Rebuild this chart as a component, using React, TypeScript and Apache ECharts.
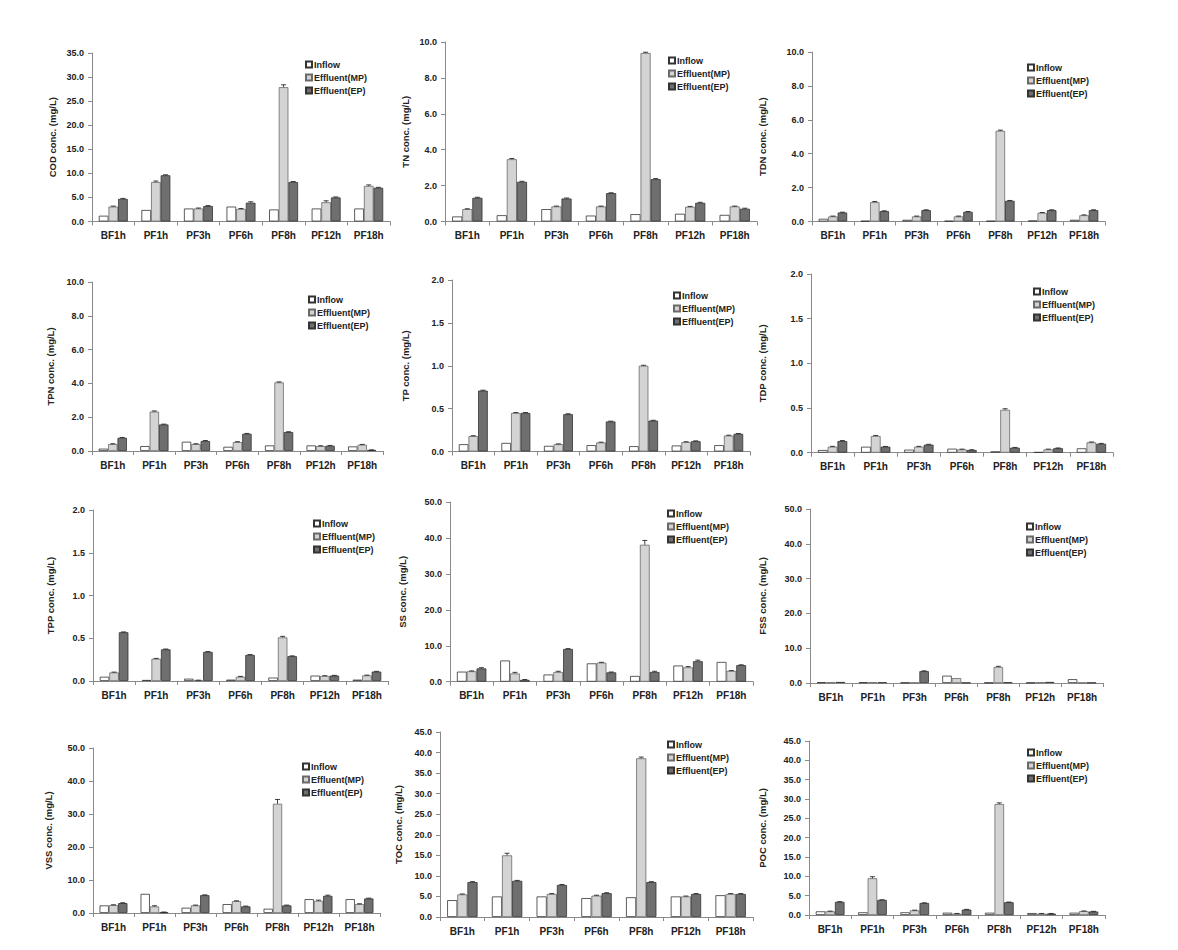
import React, { useEffect, useRef } from 'react';
import * as echarts from 'echarts';

const CATEGORIES = ['BF1h', 'PF1h', 'PF3h', 'PF6h', 'PF8h', 'PF12h', 'PF18h'];
const SERIES_NAMES = ['Inflow', 'Effluent(MP)', 'Effluent(EP)'];

const COD_INFLOW = [1.2, 2.4, 2.7, 3.1, 2.5, 2.7, 2.7];
const COD_MP = [3.1, 8.2, 2.7, 2.6, 27.9, 4.0, 7.4];
const COD_EP = [4.7, 9.6, 3.2, 3.9, 8.2, 5.0, 7.0];
const COD_MP_ERR = [0.1, 0.2, 0.1, 0.1, 0.5, 0.3, 0.2];
const COD_EP_ERR = [0.1, 0.1, 0.1, 0.2, 0.1, 0.1, 0.1];

const TN_INFLOW = [0.28, 0.35, 0.69, 0.33, 0.41, 0.43, 0.37];
const TN_MP = [0.69, 3.47, 0.84, 0.84, 9.39, 0.82, 0.84];
const TN_EP = [1.32, 2.21, 1.28, 1.58, 2.36, 1.04, 0.71];
const TN_MP_ERR = [0.02, 0.04, 0.02, 0.02, 0.04, 0.02, 0.02];
const TN_EP_ERR = [0.03, 0.03, 0.03, 0.02, 0.03, 0.03, 0.03];

const TDN_INFLOW = [0.16, 0.04, 0.1, 0.04, 0.04, 0.06, 0.1];
const TDN_MP = [0.3, 1.14, 0.3, 0.3, 5.35, 0.51, 0.37];
const TDN_EP = [0.53, 0.61, 0.67, 0.57, 1.22, 0.67, 0.67];
const TDN_MP_ERR = [0.02, 0.04, 0.02, 0.02, 0.04, 0.02, 0.02];
const TDN_EP_ERR = [0.02, 0.02, 0.02, 0.02, 0.02, 0.02, 0.02];

const TPN_INFLOW = [0.14, 0.29, 0.55, 0.25, 0.33, 0.33, 0.27];
const TPN_MP = [0.41, 2.33, 0.41, 0.53, 4.06, 0.29, 0.37];
const TPN_EP = [0.78, 1.57, 0.59, 1.02, 1.12, 0.31, 0.06];
const TPN_MP_ERR = [0.02, 0.04, 0.02, 0.02, 0.03, 0.02, 0.02];
const TPN_EP_ERR = [0.02, 0.02, 0.03, 0.02, 0.02, 0.02, 0.01];

const TP_INFLOW = [0.085, 0.1, 0.066, 0.074, 0.062, 0.07, 0.074];
const TP_MP = [0.18, 0.45, 0.085, 0.105, 1.0, 0.11, 0.186];
const TP_EP = [0.71, 0.45, 0.435, 0.35, 0.36, 0.12, 0.206];
const TP_MP_ERR = [0.004, 0.004, 0.004, 0.004, 0.006, 0.004, 0.004];
const TP_EP_ERR = [0.005, 0.004, 0.005, 0.004, 0.004, 0.004, 0.004];

const TDP_INFLOW = [0.03, 0.067, 0.034, 0.045, 0.015, 0.007, 0.049];
const TDP_MP = [0.067, 0.187, 0.067, 0.037, 0.48, 0.037, 0.116];
const TDP_EP = [0.13, 0.067, 0.09, 0.03, 0.056, 0.05, 0.1];
const TDP_MP_ERR = [0.004, 0.006, 0.004, 0.003, 0.012, 0.003, 0.004];
const TDP_EP_ERR = [0.006, 0.003, 0.004, 0.003, 0.003, 0.003, 0.004];

const TPP_INFLOW = [0.05, 0.012, 0.027, 0.016, 0.04, 0.063, 0.016];
const TPP_MP = [0.1, 0.26, 0.008, 0.05, 0.51, 0.059, 0.066];
const TPP_EP = [0.57, 0.37, 0.34, 0.305, 0.29, 0.063, 0.11];
const TPP_MP_ERR = [0.004, 0.004, 0.002, 0.004, 0.012, 0.003, 0.003];
const TPP_EP_ERR = [0.004, 0.004, 0.004, 0.004, 0.004, 0.003, 0.003];

const SS_INFLOW = [2.8, 5.9, 2.0, 5.1, 1.6, 4.5, 5.5];
const SS_MP = [2.9, 2.3, 2.7, 5.3, 38.1, 4.0, 3.0];
const SS_EP = [3.7, 0.5, 9.1, 2.6, 2.7, 5.7, 4.6];
const SS_MP_ERR = [0.1, 0.3, 0.2, 0.1, 1.2, 0.2, 0.1];
const SS_EP_ERR = [0.2, 0.1, 0.1, 0.1, 0.2, 0.3, 0.1];

const FSS_INFLOW = [0.2, 0.2, 0.1, 2.1, 0.1, 0.1, 1.1];
const FSS_MP = [0.2, 0.2, 0.1, 1.4, 4.6, 0.2, 0.1];
const FSS_EP = [0.3, 0.2, 3.4, 0.1, 0.2, 0.3, 0.1];
const FSS_MP_ERR = [0, 0, 0, 0, 0.2, 0, 0];
const FSS_EP_ERR = [0, 0, 0.1, 0, 0, 0, 0];

const VSS_INFLOW = [2.3, 5.8, 1.6, 2.7, 1.3, 4.2, 4.2];
const VSS_MP = [2.4, 2.0, 2.3, 3.6, 33.1, 3.7, 2.7];
const VSS_EP = [3.0, 0.2, 5.4, 2.0, 2.3, 5.2, 4.4];
const VSS_MP_ERR = [0.1, 0.2, 0.1, 0.1, 1.3, 0.2, 0.1];
const VSS_EP_ERR = [0.1, 0.1, 0.1, 0.1, 0.1, 0.2, 0.1];

const TOC_INFLOW = [4.1, 5.0, 5.0, 4.6, 4.8, 5.0, 5.3];
const TOC_MP = [5.5, 15.0, 5.6, 5.2, 38.6, 5.0, 5.6];
const TOC_EP = [8.5, 8.8, 7.8, 5.8, 8.5, 5.6, 5.6];
const TOC_MP_ERR = [0.1, 0.5, 0.1, 0.1, 0.3, 0.1, 0.1];
const TOC_EP_ERR = [0.1, 0.1, 0.1, 0.1, 0.1, 0.1, 0.1];

const POC_INFLOW = [0.95, 0.7, 0.7, 0.6, 0.6, 0.5, 0.6];
const POC_MP = [0.95, 9.5, 1.2, 0.35, 28.7, 0.35, 1.0];
const POC_EP = [3.4, 3.9, 3.1, 1.4, 3.3, 0.35, 0.9];
const POC_MP_ERR = [0.05, 0.4, 0.05, 0.05, 0.3, 0.05, 0.05];
const POC_EP_ERR = [0.05, 0.05, 0.05, 0.05, 0.05, 0.05, 0.05];

const PANELS = [
  { label: 'COD conc. (mg/L)', max: 35, interval: 5, inflow: COD_INFLOW, mp: COD_MP, ep: COD_EP, mpErr: COD_MP_ERR, epErr: COD_EP_ERR },
  { label: 'TN conc. (mg/L)', max: 10, interval: 2, inflow: TN_INFLOW, mp: TN_MP, ep: TN_EP, mpErr: TN_MP_ERR, epErr: TN_EP_ERR },
  { label: 'TDN conc. (mg/L)', max: 10, interval: 2, inflow: TDN_INFLOW, mp: TDN_MP, ep: TDN_EP, mpErr: TDN_MP_ERR, epErr: TDN_EP_ERR },
  { label: 'TPN conc. (mg/L)', max: 10, interval: 2, inflow: TPN_INFLOW, mp: TPN_MP, ep: TPN_EP, mpErr: TPN_MP_ERR, epErr: TPN_EP_ERR },
  { label: 'TP conc. (mg/L)', max: 2, interval: 0.5, inflow: TP_INFLOW, mp: TP_MP, ep: TP_EP, mpErr: TP_MP_ERR, epErr: TP_EP_ERR },
  { label: 'TDP conc. (mg/L)', max: 2, interval: 0.5, inflow: TDP_INFLOW, mp: TDP_MP, ep: TDP_EP, mpErr: TDP_MP_ERR, epErr: TDP_EP_ERR },
  { label: 'TPP conc. (mg/L)', max: 2, interval: 0.5, inflow: TPP_INFLOW, mp: TPP_MP, ep: TPP_EP, mpErr: TPP_MP_ERR, epErr: TPP_EP_ERR },
  { label: 'SS conc. (mg/L)', max: 50, interval: 10, inflow: SS_INFLOW, mp: SS_MP, ep: SS_EP, mpErr: SS_MP_ERR, epErr: SS_EP_ERR },
  { label: 'FSS conc. (mg/L)', max: 50, interval: 10, inflow: FSS_INFLOW, mp: FSS_MP, ep: FSS_EP, mpErr: FSS_MP_ERR, epErr: FSS_EP_ERR },
  { label: 'VSS conc. (mg/L)', max: 50, interval: 10, inflow: VSS_INFLOW, mp: VSS_MP, ep: VSS_EP, mpErr: VSS_MP_ERR, epErr: VSS_EP_ERR },
  { label: 'TOC conc. (mg/L)', max: 45, interval: 5, inflow: TOC_INFLOW, mp: TOC_MP, ep: TOC_EP, mpErr: TOC_MP_ERR, epErr: TOC_EP_ERR },
  { label: 'POC conc. (mg/L)', max: 45, interval: 5, inflow: POC_INFLOW, mp: POC_MP, ep: POC_EP, mpErr: POC_MP_ERR, epErr: POC_EP_ERR },
];

// layout: [left, top, width, height] of each plot area
const GRID_BOXES = [
  [92, 53, 298, 168.5],
  [445, 42, 312, 179.5],
  [812, 52, 293, 169.5],
  [92, 282, 291, 169],
  [452, 280, 298, 171.5],
  [811, 274, 302, 178.7],
  [93, 510, 295, 171],
  [450, 502, 303, 179.7],
  [810, 509, 293, 174],
  [93, 748, 287, 165],
  [440, 732, 313, 185],
  [809, 741, 296, 174],
];
const NAME_GAPS = [35, 35, 45, 37, 42, 44, 38, 43, 43, 40, 37, 42];
const LEGEND_POS = [
  [305, 60], [668, 56], [1027, 63], [308, 295], [673, 291], [1033, 287],
  [313, 519], [667, 509], [1026, 522], [302, 762], [667, 740], [1027, 748],
];

const FONT = 'Arial, "Liberation Sans", sans-serif';
const AXIS_COLOR = '#8a8a8a';
const BAR_CAT_GAP = 0.32;

const BAR_STYLES = [
  { color: '#ffffff', borderColor: '#333333', borderWidth: 0.8 },
  { color: '#d3d3d3', borderColor: '#6a6a6a', borderWidth: 0.8 },
  { color: '#6f6f6f', borderColor: '#333333', borderWidth: 0.8 },
];

function errorSeries(values: number[], errs: number[], idx: number, offsetFrac: number) {
  return {
    type: 'custom',
    name: 'err',
    xAxisIndex: idx,
    yAxisIndex: idx,
    z: 5,
    silent: true,
    data: values.map((v, i) => [i, v, errs[i]]),
    encode: { x: 0, y: 1 },
    renderItem: (params: any, api: any) => {
      const i = api.value(0);
      const v = api.value(1);
      const e = api.value(2);
      if (!e) return null;
      const base = api.coord([i, v]);
      const top = api.coord([i, v + e]);
      const band = api.size([1, 0])[0];
      const x = base[0] + offsetFrac * band;
      const style = { stroke: '#111', lineWidth: 0.8 };
      return {
        type: 'group',
        children: [
          { type: 'line', shape: { x1: x, y1: base[1], x2: x, y2: top[1] }, style },
          { type: 'line', shape: { x1: x - 2.5, y1: top[1], x2: x + 2.5, y2: top[1] }, style },
        ],
      };
    },
  };
}

function buildOption() {
  const grid: any[] = [];
  const xAxis: any[] = [];
  const yAxis: any[] = [];
  const legend: any[] = [];
  const series: any[] = [];
  const barFrac = (1 - BAR_CAT_GAP) / 3;

  PANELS.forEach((p, idx) => {
    const [left, top, width, height] = GRID_BOXES[idx];
    grid.push({ left, top, width, height, containLabel: false });
    xAxis.push({
      type: 'category',
      gridIndex: idx,
      data: CATEGORIES,
      axisLine: { show: true, lineStyle: { color: AXIS_COLOR, width: 1 } },
      axisTick: { show: true, length: 4, lineStyle: { color: AXIS_COLOR } },
      axisLabel: { interval: 0, margin: 9, fontSize: 10, fontWeight: 'bold', color: '#222', fontFamily: FONT },
      splitLine: { show: false },
    });
    yAxis.push({
      type: 'value',
      gridIndex: idx,
      min: 0,
      max: p.max,
      interval: p.interval,
      name: p.label,
      nameLocation: 'middle',
      nameRotate: 90,
      nameGap: NAME_GAPS[idx],
      nameTextStyle: { fontSize: 9.5, fontWeight: 'bold', color: '#222', fontFamily: FONT },
      axisLine: { show: true, lineStyle: { color: AXIS_COLOR, width: 1 } },
      axisTick: { show: true, length: 4, lineStyle: { color: AXIS_COLOR } },
      axisLabel: {
        fontSize: 9,
        fontWeight: 'bold',
        color: '#222',
        fontFamily: FONT,
        margin: 8,
        formatter: (v: number) => v.toFixed(1),
      },
      splitLine: { show: false },
    });
    const [lx, ly] = LEGEND_POS[idx];
    legend.push({
      data: SERIES_NAMES,
      orient: 'vertical',
      left: lx,
      top: ly,
      icon: 'rect',
      itemWidth: 6,
      itemHeight: 6,
      itemGap: 4,
      padding: 0,
      selectedMode: false,
      textStyle: { fontSize: 9, fontWeight: 'bold', color: '#222', fontFamily: FONT, padding: [0, 0, 0, -3] },
    });
    const dataSets = [p.inflow, p.mp, p.ep];
    dataSets.forEach((d, k) => {
      series.push({
        type: 'bar',
        name: SERIES_NAMES[k],
        xAxisIndex: idx,
        yAxisIndex: idx,
        data: d,
        barGap: '0%',
        barCategoryGap: BAR_CAT_GAP * 100 + '%',
        itemStyle: BAR_STYLES[k],
        emphasis: { disabled: true },
      });
    });
    series.push(errorSeries(p.mp, p.mpErr, idx, 0));
    series.push(errorSeries(p.ep, p.epErr, idx, barFrac));
  });

  return {
    animation: false,
    backgroundColor: '#ffffff',
    textStyle: { fontFamily: FONT },
    grid,
    xAxis,
    yAxis,
    legend,
    series,
  };
}

export default function App() {
  const ref = useRef<HTMLDivElement>(null);
  useEffect(() => {
    const chart = echarts.init(ref.current as HTMLDivElement, null, { renderer: 'svg' });
    chart.setOption(buildOption() as any);
    return () => chart.dispose();
  }, []);
  return (
    <div
      ref={ref}
      style={{ position: 'absolute', left: 0, top: 0, width: 1178, height: 950, background: '#fff' }}
    />
  );
}
